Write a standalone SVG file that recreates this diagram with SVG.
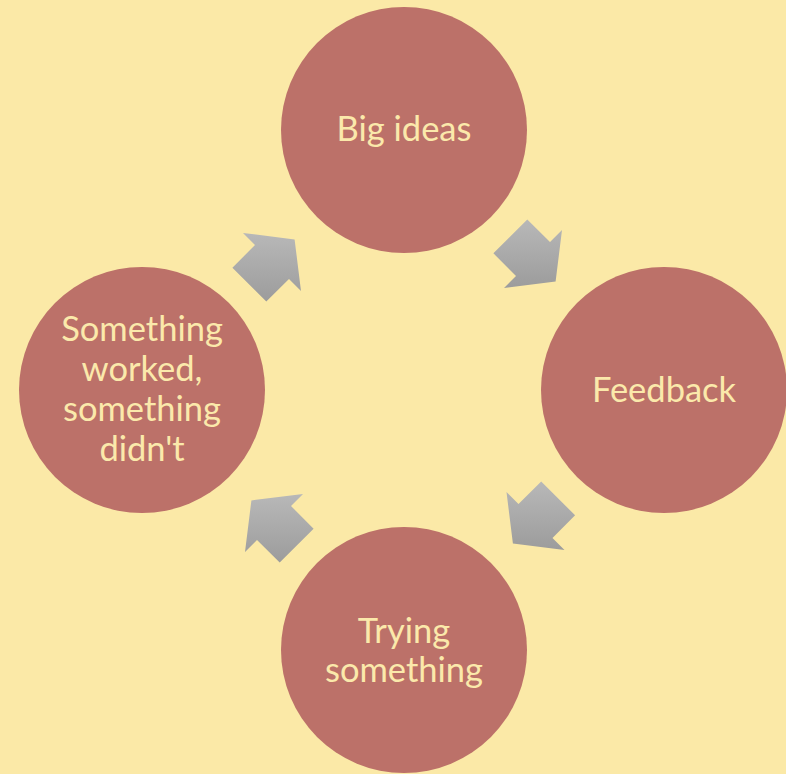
<svg xmlns="http://www.w3.org/2000/svg" width="786" height="774" viewBox="0 0 786 774">
<style>
.node{fill:#BC7169}
.lbl{font-family:Lato,"Open Sans","DejaVu Sans",sans-serif;font-size:34.5px;fill:#FBE9AB;text-anchor:middle}
.arr{fill:url(#g)}
</style>
<defs>
<linearGradient id="g" x1="0" y1="0" x2="0" y2="1">
<stop offset="0" stop-color="#B8B8B8"/>
<stop offset="1" stop-color="#9C9C9C"/>
</linearGradient>
</defs>
<rect width="786" height="774" fill="#FBE9A7"/>
<g id="connectors">
<polygon class="arr" points="527.3,219.4 550,242 562,230 555.6,281.6 504,288 516,276 493.4,253.3"/>
<polygon class="arr" points="575.1,515.3 552.5,538 564.5,550 512.9,543.6 506.5,492 518.5,504 541.2,481.4"/>
<polygon class="arr" points="279.7,562.6 257,540 245,552 251.4,500.4 303,494 291,506 313.6,528.7"/>
<polygon class="arr" points="232.4,267.7 255,245 243,233 294.6,239.4 301,291 289,279 266.3,301.6"/>
</g>
<g id="big-ideas">
<circle class="node" cx="404" cy="130" r="123"/>
<text class="lbl" x="404" y="141">Big ideas</text>
</g>
<g id="feedback">
<circle class="node" cx="664" cy="390" r="123"/>
<text class="lbl" x="664" y="402">Feedback</text>
</g>
<g id="trying-something">
<circle class="node" cx="404" cy="650" r="123"/>
<text class="lbl" x="404" y="643">Trying</text>
<text class="lbl" x="404" y="682">something</text>
</g>
<g id="something-worked">
<circle class="node" cx="142" cy="390" r="123"/>
<text class="lbl" x="142" y="341">Something</text>
<text class="lbl" x="142" y="381">worked,</text>
<text class="lbl" x="142" y="421">something</text>
<text class="lbl" x="142" y="461">didn't</text>
</g>
</svg>
